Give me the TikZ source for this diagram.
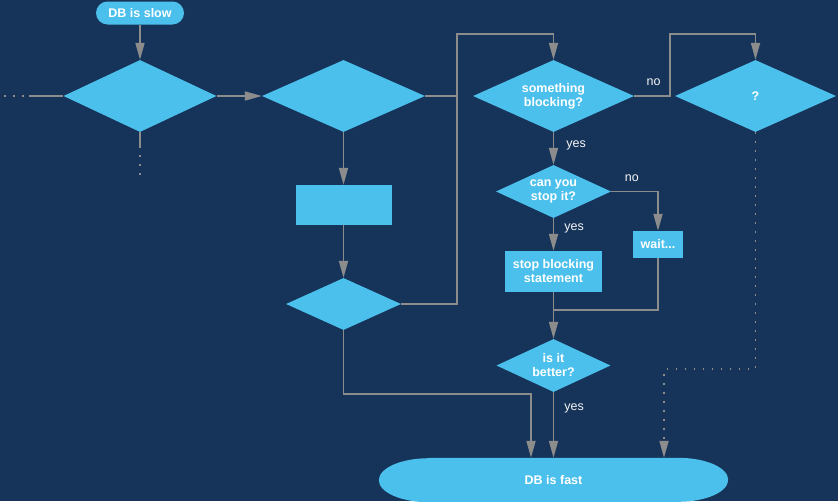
\documentclass[tikz,border=0pt]{standalone}
\usepackage{fontspec}
\setmainfont{Liberation Sans}
\usepackage{tikz}
\usetikzlibrary{shapes.geometric,arrows.meta}

\definecolor{bgnavy}{HTML}{16345A}
\definecolor{boxblue}{HTML}{4CC0EC}
\definecolor{linegray}{HTML}{8C8C8C}
\newcommand{\boxfont}{\fontsize{12.5}{14}\selectfont\bfseries}
\newcommand{\labelfont}{\fontsize{12.5}{14}\selectfont}

\begin{document}
\begin{tikzpicture}[x=1pt, y=-1pt,
  decision/.style={diamond, shape aspect=2.2, fill=boxblue, text=white, font=\boxfont, align=center, inner sep=0pt},
  process/.style={rectangle, fill=boxblue, text=white, font=\boxfont, align=center, inner sep=0pt},
  terminal/.style={rectangle, rounded corners=11.5pt, fill=boxblue, text=white, font=\boxfont, inner sep=0pt},
  flowline/.style={draw=linegray, line width=1.8pt},
  flowarrow/.style={flowline, -{Triangle[length=17pt,width=9pt]}},
  dotline/.style={draw=linegray, line width=1.8pt, dash pattern=on 1.8pt off 7.2pt},
  edgelabel/.style={text=white!92!gray, font=\labelfont, inner sep=1pt}]
%canvas
\useasboundingbox (0,0) rectangle (838,501);
\fill[bgnavy] (0,0) rectangle (838,501);

%nodes
\node (slow) [terminal, minimum width=88pt, minimum height=23pt] at (140,13) {DB is slow};
\node (first) [decision, minimum width=153pt, minimum height=72pt, below of=slow, node distance=83pt] {};
\node (second) [decision, minimum width=163pt, minimum height=72pt, right of=first, node distance=203.5pt] {};
\node (work) [process, minimum width=96pt, minimum height=40pt, below of=second, node distance=109pt] {};
\node (third) [decision, minimum width=115pt, minimum height=52pt, below of=work, node distance=99pt] {};
\node (block) [decision, minimum width=161pt, minimum height=72pt, right of=second, node distance=210pt] {something\\blocking?};
\node (unknown) [decision, minimum width=161pt, minimum height=72pt, right of=block, node distance=202pt] {?};
\node (ask) [decision, minimum width=115pt, minimum height=53pt, below of=block, node distance=95.5pt] {can you\\stop it?};
\node (wait) [process, minimum width=50pt, minimum height=27pt, right of=ask, node distance=104.5pt, yshift=-53pt] {wait...};
\node (stopper) [process, minimum width=97pt, minimum height=41pt, below of=ask, node distance=80pt] {stop blocking\\statement};
\node (better) [decision, minimum width=114pt, minimum height=53pt, below of=stopper, node distance=94pt] {is it\\better?};
\node (fast) [minimum width=349pt, minimum height=44pt, inner sep=0pt, below of=better, node distance=114.5pt] {};
\fill[boxblue] ([xshift=50pt]fast.north west) -- ([xshift=-50pt]fast.north east)
  arc[start angle=90, end angle=-90, x radius=50pt, y radius=22pt]
  -- ([xshift=50pt]fast.south west)
  arc[start angle=270, end angle=90, x radius=50pt, y radius=22pt] -- cycle;
\node (fasttext) [terminal, fill=none] at (fast) {DB is fast};

%joints
\coordinate (inStart) at (4,96);
\coordinate (inEnd) at (29,96);
\coordinate (outStart) at (140,148);
\coordinate (outEnd) at (140,176);
\coordinate (topLeft) at (457,34);
\coordinate (topRight) at (670,34);
\coordinate (merge) at (553.5,310);
\coordinate (lowLeft) at (531,394);
\coordinate (lowRight) at (664,369);

%links
\draw[dotline] (inStart) -- (inEnd);
\draw[flowline] (inEnd) -- (first.west);
\draw[flowline] (first.south) -- (outStart);
\draw[dotline, dash phase=1.8pt] (outStart) -- (outEnd);
\draw[flowarrow] (slow.south) -- (first.north);
\draw[flowarrow] (first.east) -- (second.west);
\draw[flowarrow] (second.south) -- (work.north);
\draw[flowarrow] (work.south) -- (third.north);
\draw[flowline] (second.east) -- (second.east -| topLeft);
\draw[flowarrow] (third.east) -| (topLeft) -| (block.north);
\draw[flowarrow] (block.east) -| node (no1) [edgelabel, pos=0.27, above=8pt] {no} (topRight) -| (unknown.north);
\draw[flowarrow] (block.south) -- node (yes1) [edgelabel, pos=0.42, right=11pt] {yes} (ask.north);
\draw[flowarrow] (ask.east) -| node (no2) [edgelabel, pos=0.22, above=7.5pt] {no} (wait.north);
\draw[flowarrow] (ask.south) -- node (yes2) [edgelabel, pos=0.3, right=9pt] {yes} (stopper.north);
\draw[flowarrow] (stopper.south) -- (better.north);
\draw[flowline] (wait.south) |- (merge);
\draw[flowarrow] (better.south) -- node (yes3) [edgelabel, pos=0.25, right=9pt] {yes} (better.south |- fast.north);
\draw[flowarrow] (third.south) |- (lowLeft) -- (lowLeft |- fast.north);
\draw[dotline, -{Triangle[length=17pt,width=9pt]}] (unknown.south) |- (lowRight) -- (lowRight |- fast.north);
\end{tikzpicture}
\end{document}
